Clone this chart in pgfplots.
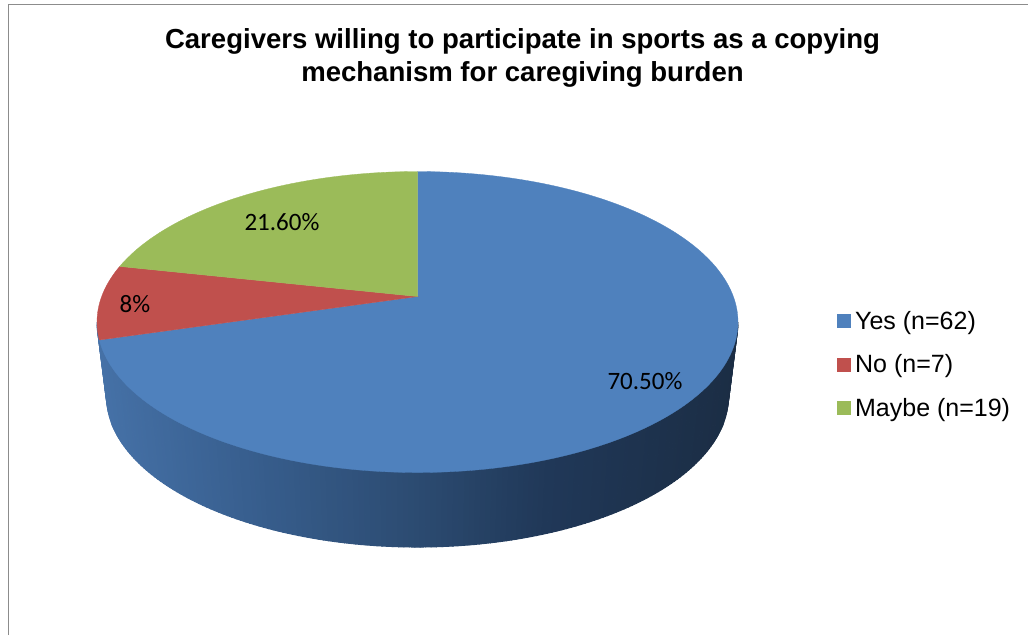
\documentclass[border=0pt]{standalone}
\usepackage{fontspec}
\setmainfont{Liberation Sans}
\newfontfamily\labelfont{Carlito}
\usepackage{pgfplots}
\usepackage{pgfplotstable}
\pgfplotsset{compat=1.18}

\definecolor{yesblue}{HTML}{4F81BD}
\definecolor{nored}{HTML}{C0504D}
\definecolor{maybegreen}{HTML}{9BBB59}
\definecolor{framegray}{HTML}{8C8C8C}

% Slice shares in percent, clockwise from twelve o'clock
\pgfplotstableread{
share count
70.5  62
8     7
21.6  19
}\slices

\begin{document}
\begin{tikzpicture}
\pgfplotstablegetelem{0}{share}\of\slices \pgfmathsetmacro{\sYes}{\pgfplotsretval}
\pgfplotstablegetelem{1}{share}\of\slices \pgfmathsetmacro{\sNo}{\pgfplotsretval}
\pgfplotstablegetelem{2}{share}\of\slices \pgfmathsetmacro{\sMaybe}{\pgfplotsretval}
\pgfmathsetmacro{\total}{\sYes+\sNo+\sMaybe}
% Slice boundaries as angles on the disc
\pgfmathsetmacro{\aYes}{90-\sYes/\total*360}
\pgfmathsetmacro{\aNo}{\aYes-\sNo/\total*360}
\begin{axis}[
  scale only axis, width=1028pt, height=635pt,
  xmin=0, xmax=1028, ymin=0, ymax=635, zmin=-1, zmax=1,
  y dir=reverse, view={0}{90}, axis lines=none,
  % Top face: ellipse, with the disc centre displaced by the perspective
  declare function={
    cx=417.5; cy=322; rx=320.5; ry=150.5; k=0.1694;
    topx(\a)=cx+rx*cos(\a)*sqrt(1-k*k)/(1+k*sin(\a));
    topy(\a)=cy-ry*(sin(\a)+k)/(1+k*sin(\a));
  },
  colormap={rimshade}{
    rgb255(0cm)=(70,114,168) rgb255(1.5cm)=(56,95,143)
    rgb255(3.2cm)=(44,75,113) rgb255(4.5cm)=(32,56,88)
    rgb255(6.4cm)=(27,45,68)},
  point meta min=97, point meta max=738,
  legend style={
    at={(axis cs:837,309)}, anchor=north west, draw=none, fill=none,
    font=\fontsize{25}{29}\selectfont, inner sep=0pt, outer sep=0pt,
    row sep=20pt, cells={anchor=west}},
  legend image code/.code={
    \fill[#1] (0pt,-6.5pt) rectangle (13pt,6.5pt);
    \node[inner sep=0pt, minimum size=0pt] at (16pt,0pt) {};},
]
  % Page extent
  \path[use as bounding box] (axis cs:0,0) rectangle (axis cs:1028,635);

  % Chart frame
  \addplot[framegray, line width=1.8pt, forget plot]
    coordinates {(8.5,635) (8.5,4.5) (1028,4.5)};

  % Rim of the pie, shaded from left to right
  \addplot3[surf, shader=flat, forget plot, samples=180, samples y=2,
    line width=1pt, domain=180:360, y domain=0:1, point meta=x]
    ({417.5+(320.5-9.5*y)*cos(x)},{322+74*y-(150.5+0.5*y)*sin(x)},{0});

  % Top face, one wedge per row of the table
  \addplot[fill=yesblue, draw=yesblue, line width=0.3pt, domain=\aYes:90, samples=180]
    ({topx(x)},{topy(x)}) -- (axis cs:417.5,296.5) -- cycle;
  \addplot[fill=nored, draw=nored, line width=0.3pt, domain=\aNo:\aYes, samples=40]
    ({topx(x)},{topy(x)}) -- (axis cs:417.5,296.5) -- cycle;
  \addplot[fill=maybegreen, draw=maybegreen, line width=0.3pt, domain=-270:\aNo, samples=80]
    ({topx(x)},{topy(x)}) -- (axis cs:417.5,296.5) -- cycle;

  \legend{Yes (n=62), No (n=7), Maybe (n=19)}

  % Data labels
  \node[font=\labelfont\fontsize{25}{28}\selectfont] at (axis cs:645,381) {70.50\%};
  \node[font=\labelfont\fontsize{25}{28}\selectfont] at (axis cs:135,304) {8\%};
  \node[font=\labelfont\fontsize{25}{28}\selectfont] at (axis cs:282,222) {21.60\%};

  % Title
  \node[font=\bfseries\fontsize{27.55}{33}\selectfont, align=center] at (axis cs:522.5,58)
    {Caregivers willing to participate in sports as a copying\\mechanism for caregiving burden};
\end{axis}
\end{tikzpicture}
\end{document}
